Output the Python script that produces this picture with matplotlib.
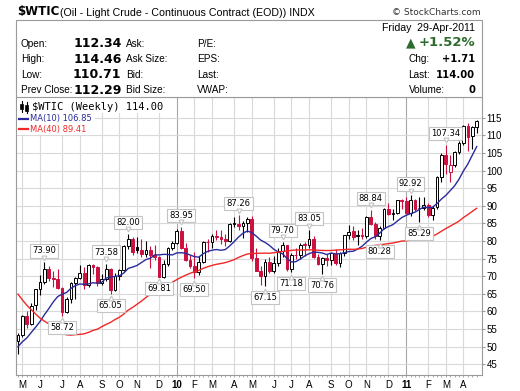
import matplotlib
matplotlib.use('Agg')
import matplotlib.pyplot as plt
from matplotlib.lines import Line2D
from matplotlib.patches import Rectangle
from matplotlib.transforms import offset_copy
import numpy as np
import pandas as pd

plt.rcParams['font.family'] = ['Liberation Sans', 'DejaVu Sans']

W, H = 520, 391
RED = '#cc1040'
GRID = '#d9d9d9'
FRAME = '#9a9a9a'
BLUE_MA = '#2a2a9c'
RED_MA = '#f02828'

# weekly bars (week ending Friday)
weeks = pd.date_range('2009-05-01', '2011-04-29', freq='W-FRI')

opens = [51.6, 53.2, 58.6, 56.3, 61.7, 66.3, 68.4, 72.0, 69.6, 69.2,
         66.7, 59.9, 63.6, 68.0, 69.5, 70.9, 67.5, 73.3, 72.7, 68.0,
         69.3, 72.0, 66.0, 70.0, 71.8, 78.5, 80.5, 78.2, 77.4, 76.4,
         77.5, 76.1, 75.5, 69.9, 73.4, 78.1, 79.4, 82.8, 78.0, 74.5,
         72.9, 71.2, 74.1, 79.8, 79.7, 81.5, 81.2, 80.7, 80.0, 84.9,
         84.9, 84.2, 85.1, 86.2, 75.1, 71.6, 70.0, 74.0, 71.5, 73.8,
         77.2, 78.9, 72.1, 76.1, 76.0, 79.0, 79.0, 80.7, 75.4, 73.5,
         75.2, 74.6, 76.4, 73.7, 76.5, 81.6, 82.7, 81.3, 81.7, 81.4,
         86.9, 84.9, 81.5, 83.8, 89.2, 87.8, 88.0, 91.5, 91.4, 88.0,
         91.5, 89.5, 89.3, 90.2, 87.4, 89.6, 98.2, 104.4, 99.5, 101.6,
         105.4, 107.9, 112.8, 109.7, 112.34]
highs = [53.9, 58.9, 60.1, 62.3, 66.4, 70.3, 73.9, 73.0, 71.5, 72.0,
         66.8, 64.1, 68.4, 69.8, 73.3, 72.5, 73.5, 73.5, 72.9, 70.5,
         73.58, 72.4, 70.8, 72.0, 78.9, 82.0, 81.0, 81.0, 80.5, 80.0,
         78.5, 79.0, 75.6, 74.5, 78.3, 80.0, 83.5, 83.95, 79.4, 76.0,
         77.0, 75.6, 80.1, 80.5, 81.9, 83.2, 83.1, 82.1, 85.0, 86.9,
         87.26, 85.6, 86.8, 87.0, 78.0, 73.0, 75.0, 75.5, 75.8, 78.0,
         79.7, 79.0, 76.5, 78.0, 79.5, 79.6, 83.05, 81.3, 76.4, 75.5,
         76.3, 76.7, 77.6, 76.8, 81.8, 84.4, 84.2, 83.0, 83.6, 87.0,
         88.84, 85.5, 84.2, 89.5, 90.8, 89.0, 91.6, 91.9, 92.6, 92.92,
         92.0, 92.4, 92.5, 90.8, 89.9, 98.6, 104.9, 107.34, 104.3, 105.7,
         108.5, 113.0, 113.5, 112.6, 114.46]
lows = [47.8, 52.8, 55.2, 56.0, 60.5, 64.7, 67.7, 68.5, 66.8, 66.3,
        58.72, 59.4, 62.5, 63.6, 69.3, 66.5, 66.9, 70.6, 67.1, 67.5,
        68.5, 65.05, 65.8, 68.8, 71.5, 77.8, 76.1, 76.6, 75.5, 75.5,
        72.4, 74.6, 69.81, 69.4, 72.8, 77.3, 79.2, 77.8, 74.2, 72.4,
        69.5, 70.2, 73.7, 76.9, 78.1, 80.3, 79.2, 78.7, 79.6, 84.0,
        83.0, 80.9, 82.5, 74.3, 71.4, 67.6, 67.15, 70.8, 70.8, 73.0,
        75.5, 71.6, 71.18, 74.9, 75.0, 75.8, 78.0, 75.3, 73.3, 70.76,
        72.9, 73.3, 73.1, 72.7, 75.7, 80.6, 80.4, 79.0, 80.6, 80.8,
        84.4, 80.6, 80.28, 83.3, 87.4, 86.1, 87.7, 89.1, 87.6, 87.1,
        88.5, 85.29, 88.8, 86.8, 85.9, 89.2, 96.7, 98.9, 96.8, 100.9,
        104.6, 107.3, 105.5, 106.2, 110.71]
closes = [53.20, 58.63, 56.34, 61.67, 66.31, 68.44, 72.04, 69.55, 69.16, 66.73,
          59.89, 63.56, 68.05, 69.45, 70.93, 67.51, 73.30, 72.74, 68.02, 69.29,
          72.04, 66.02, 69.95, 71.77, 78.53, 80.50, 77.00, 77.43, 76.35, 77.47,
          76.05, 75.47, 69.87, 73.36, 78.05, 79.36, 82.75, 78.00, 74.54, 72.89,
          71.19, 74.13, 79.81, 79.66, 81.50, 81.24, 80.68, 80.00, 84.87, 84.92,
          84.20, 85.12, 86.15, 75.11, 71.61, 70.04, 73.97, 71.51, 73.78, 77.18,
          78.86, 72.14, 76.09, 76.01, 78.98, 78.95, 80.70, 75.39, 73.46, 75.17,
          74.60, 76.45, 73.66, 76.49, 81.58, 82.66, 81.25, 81.69, 81.43, 86.85,
          84.88, 81.51, 83.76, 89.19, 87.79, 88.02, 91.51, 91.38, 88.03, 91.54,
          89.11, 89.34, 90.20, 87.40, 89.50, 98.20, 104.42, 101.80, 101.60, 105.40,
          107.94, 112.79, 109.66, 112.29, 114.00]

# closes of the 39 weeks before the first bar (needed for the moving averages)
prior_closes = [125.10, 115.20, 113.77, 114.59, 115.46, 106.23, 101.18, 104.55, 106.89,
                93.88, 77.70, 71.85, 64.15, 67.81, 61.04, 57.04, 49.93, 54.43,
                40.81, 46.28, 42.36, 37.71, 46.34, 40.83, 36.51, 46.47, 41.68,
                40.17, 37.51, 38.94, 44.76, 45.52, 46.25, 51.06, 52.38,
                52.51, 52.24, 50.33, 51.55]

month_labels = ['M', 'J', 'J', 'A', 'S', 'O', 'N', 'D', '10', 'F', 'M', 'A',
                'M', 'J', 'J', 'A', 'S', 'O', 'N', 'D', '11', 'F', 'M', 'A']

ann_idx = [6, 10, 20, 21, 25, 32, 37, 40, 50, 56, 60, 62, 66, 69, 80, 82, 89, 91, 97]
ann_val = [73.90, 58.72, 73.58, 65.05, 82.00, 69.81, 83.95, 69.50, 87.26, 67.15,
           79.70, 71.18, 83.05, 70.76, 88.84, 80.28, 92.92, 85.29, 107.34]

quote_left = [('Open:', '112.34'), ('High:', '114.46'), ('Low:', '110.71'), ('Prev Close:', '112.29')]
quote_mid = ['Ask:', 'Ask Size:', 'Bid:', 'Bid Size:']
quote_mid2 = ['P/E:', 'EPS:', 'Last:', 'VWAP:']
quote_right = [('Chg:', '+1.71'), ('Last:', '114.00'), ('Volume:', '0')]
quote_date = 'Friday  29-Apr-2011'
quote_pct = '+1.52%'
ma_labels = [('MA(10) 106.85', BLUE_MA), ('MA(40) 89.41', RED_MA)]


def fp(x, y):
    return x / W, 1 - y / H


fig = plt.figure(figsize=(W / 100, H / 100), dpi=100)
ax = fig.add_axes([16 / W, (H - 375) / H, 466 / W, (375 - 97) / H])

o, h, l, c = (np.array(v, dtype=float) for v in (opens, highs, lows, closes))
x = np.arange(len(c))
prev = np.r_[prior_closes[-1], c[:-1]]
col = np.where(c >= prev, 'black', RED)
face = np.where(c > o, 'white', col)

allc = pd.Series(prior_closes + closes)
ma10 = allc.rolling(10).mean().iloc[len(prior_closes):].values
ma40 = allc.rolling(40).mean().iloc[len(prior_closes):].values

# month grid lines at first bar whose week starts in the month
mondays = weeks - pd.Timedelta(days=4)
mpos = [i for i in range(1, len(weeks)) if mondays[i].month != mondays[i - 1].month]
for i, lab in zip(mpos, month_labels):
    ax.axvline(i, color='#a8a8a8' if lab.isdigit() else GRID, lw=0.8, zorder=0)

ax.set_yticks(np.arange(45, 120, 5))
ax.grid(axis='y', color=GRID, lw=0.8, zorder=0)
ax.set_axisbelow(True)

ax.vlines(x, l, h, colors=col, lw=0.8, zorder=3)
ax.bar(x, np.maximum(np.abs(c - o), 0.12), bottom=np.minimum(o, c), width=0.62,
       color=face, edgecolor=col, linewidth=0.7, zorder=4)
ax.plot(x, ma10, color=BLUE_MA, lw=1.0, zorder=5)
ax.plot(x, ma40, color=RED_MA, lw=1.0, zorder=5)

for i, v in zip(ann_idx, ann_val):
    s = 1 if np.isclose(v, h[i]) else -1
    ax.annotate(f'{v:.2f}', xy=(i, v), xytext=(0, s * 8.3), textcoords='offset points',
                ha='center', va='center', fontsize=6, family='DejaVu Sans', zorder=7,
                bbox=dict(boxstyle='square,pad=0.25', fc='white', ec='#c4c4c4', lw=0.8))
    tr = offset_copy(ax.transData, fig=fig, x=0, y=s * 3.3, units='points')
    ax.plot(i, v, marker='v' if s > 0 else '^', ms=3.5, mfc='white', mec='#c4c4c4',
            mew=0.8, transform=tr, zorder=8, clip_on=False)

ax.set_xlim(-0.45, 105.2)
ax.set_ylim(41.93, 120.9)
ax.set_xticks(mpos)
ax.set_xticklabels(month_labels)
for t in ax.get_xticklabels():
    if t.get_text().isdigit():
        t.set_fontweight('bold')
ax.set_xticks(x, minor=True)
ax.yaxis.tick_right()
ax.tick_params(axis='y', length=1.8, width=0.8, color=FRAME, pad=1.5, labelsize=7)
ax.tick_params(axis='x', which='both', length=1.5, width=0.6, color=FRAME, pad=1.8, labelsize=7)
for sp in ax.spines.values():
    sp.set_color(FRAME)
    sp.set_linewidth(0.8)

# legend block inside the chart
fig.add_artist(Rectangle(fp(17, 113), 151 / W, 15 / H, transform=fig.transFigure,
                         fc='white', ec='none', zorder=1))
fig.add_artist(Rectangle(fp(17, 135), 78 / W, 22 / H, transform=fig.transFigure,
                         fc='white', ec='none', zorder=1))
# small candlestick icon in front of the price line
for xx, y0, y1, yb0, yb1 in [(21.5, 101, 112, 104, 109), (26.5, 102, 113, 105, 111)]:
    fig.add_artist(Line2D([xx / W] * 2, [1 - y0 / H, 1 - y1 / H], color='black', lw=0.8, zorder=2))
    fig.add_artist(Rectangle(fp(xx - 1.5, yb1), 3 / W, (yb1 - yb0) / H, transform=fig.transFigure,
                             fc='black', ec='black', lw=0.5, zorder=2))
fig.text(*fp(31.5, 107.5), '\\$WTIC (Weekly) 114.00', family='DejaVu Sans Mono',
         fontsize=7.5, va='center', zorder=2)
for k, (txt, cc) in enumerate(ma_labels):
    yy = 119 + k * 10.3
    fig.add_artist(Line2D([19 / W, 28 / W], [1 - yy / H] * 2, color=cc, lw=1.6, zorder=2))
    fig.text(*fp(30, yy), txt, color=cc, family='DejaVu Sans', fontsize=6, va='center', zorder=2)

# header
fig.text(*fp(17, 12), '\\$WTIC', family='DejaVu Sans', fontweight='bold', fontsize=8.5, va='center')
fig.text(*fp(60, 12.5), '(Oil - Light Crude - Continuous Contract (EOD)) INDX', fontsize=7.7, va='center')
fig.text(*fp(481, 12.5), '\u00a9 StockCharts.com', family='DejaVu Sans', fontsize=6.5,
         color='#333333', ha='right', va='center')

fig.add_artist(Rectangle(fp(16, 97), 466 / W, 77 / H, transform=fig.transFigure,
                         fc='white', ec=FRAME, lw=0.8, zorder=1))
rows = [43.7, 59.3, 75, 90]
for (lab, val), m1, m2, yy in zip(quote_left, quote_mid, quote_mid2, rows):
    fig.text(*fp(20.7, yy), lab, fontsize=7.2, va='center', zorder=2)
    fig.text(*fp(121.5, yy), val, family='DejaVu Sans', fontweight='bold', fontsize=9,
             ha='right', va='center', zorder=2)
    fig.text(*fp(126, yy), m1, fontsize=7.2, va='center', zorder=2)
    fig.text(*fp(197, yy), m2, fontsize=7.2, va='center', zorder=2)

fig.text(*fp(475, 28), quote_date, fontsize=7.6, ha='right', va='center', zorder=2)
fig.text(*fp(406, 42.7), '\u25b2', family='DejaVu Sans', color='#2e6b2e', fontsize=9,
         va='center', zorder=2)
fig.text(*fp(475, 42.7), quote_pct, family='DejaVu Sans', fontweight='bold', color='#2e6b2e',
         fontsize=9.5, ha='right', va='center', zorder=2)
for (lab, val), yy in zip(quote_right, rows[1:]):
    fig.text(*fp(408.5, yy), lab, fontsize=7.2, va='center', zorder=2)
    fig.text(*fp(475, yy), val, family='DejaVu Sans', fontweight='bold', fontsize=7.2,
             ha='right', va='center', zorder=2)

fig.savefig('out.png', dpi=100)
